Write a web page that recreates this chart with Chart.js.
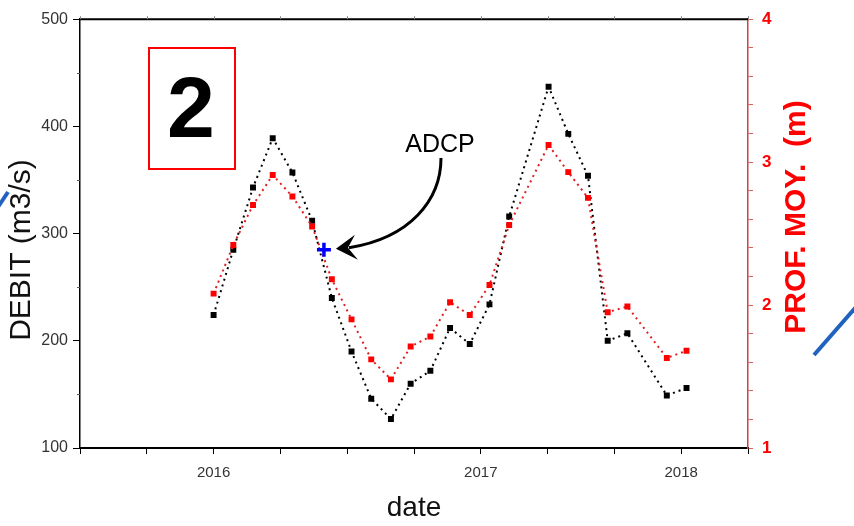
<!DOCTYPE html>
<html>
<head>
<meta charset="utf-8">
<script src="https://cdn.jsdelivr.net/npm/chart.js@4.4.1/dist/chart.umd.min.js"></script>
<style>
  html, body { margin: 0; padding: 0; background: #fff; }
  #wrap { width: 854px; height: 526px; position: relative; }
</style>
</head>
<body>
<div id="wrap"><canvas id="chart"></canvas></div>
<script>
// months since Jan 2016 (missing months have no measurement)
const months = [0, 1, 2, 3, 4, 5, 6, 7, 8, 9, 10, 11, 12, 13, 14, 15, 17, 18, 19, 20, 21, 23, 24];
const debit = [224, 285, 343, 389, 357, 312, 240, 190, 146, 127, 160, 172, 212, 197, 234, 316, 437, 393, 354, 200, 207, 149, 156];
const profMoy = [2.08, 2.42, 2.70, 2.91, 2.76, 2.55, 2.18, 1.90, 1.62, 1.48, 1.71, 1.78, 2.02, 1.93, 2.14, 2.56, 3.12, 2.93, 2.75, 1.95, 1.99, 1.63, 1.68];
const adcpMonth = [5.6];
const adcpDebit = [285];

// x axis: a tick every 3.39 months, only three of them carry a label
const xMin = -6.78, xMax = 27.12, xStep = 3.39;
const xTickLabels = ['', '', '2016', '', '', '', '2017', '', '', '2018', ''];
const debitMinorTicks = [150, 250, 350, 450];

const FONT = 'Arial, "Liberation Sans", sans-serif';

const toPoints = (xs, ys) => xs.map((x, i) => ({ x: x, y: ys[i] }));

// axis titles, top frame line, minor ticks and the slide annotations
const decorations = {
  id: 'decorations',
  afterDraw(chart) {
    const ctx = chart.ctx;
    const area = chart.chartArea;
    const xs = chart.scales.x;
    const ys = chart.scales.y;
    ctx.save();

    // top frame line with small ticks
    ctx.strokeStyle = '#000';
    ctx.lineWidth = 2;
    ctx.beginPath();
    ctx.moveTo(area.left, area.top);
    ctx.lineTo(area.right, area.top);
    ctx.stroke();
    ctx.strokeStyle = '#888';
    ctx.lineWidth = 1;
    xs.ticks.forEach(t => {
      const px = Math.round(xs.getPixelForValue(t.value)) + 0.5;
      ctx.beginPath();
      ctx.moveTo(px, area.top);
      ctx.lineTo(px, area.top - 3);
      ctx.stroke();
    });

    // short minor ticks on the DEBIT axis
    ctx.strokeStyle = '#555';
    debitMinorTicks.forEach(v => {
      const py = Math.round(ys.getPixelForValue(v)) + 0.5;
      ctx.beginPath();
      ctx.moveTo(area.left - 3, py);
      ctx.lineTo(area.left, py);
      ctx.stroke();
    });

    // rotated axis titles
    ctx.textAlign = 'center';
    ctx.textBaseline = 'middle';
    ctx.save();
    ctx.translate(22, 250);
    ctx.rotate(-Math.PI / 2);
    ctx.fillStyle = '#111';
    ctx.font = '30px ' + FONT;
    ctx.fillText('DEBIT (m3/s)', 0, 0);
    ctx.restore();

    ctx.save();
    ctx.translate(797, 217);
    ctx.rotate(-Math.PI / 2);
    ctx.fillStyle = '#ff0000';
    ctx.font = 'bold 30px ' + FONT;
    ctx.fillText('PROF. MOY.  (m)', 0, 0);
    ctx.restore();

    // panel number box
    ctx.strokeStyle = '#ff0000';
    ctx.lineWidth = 2;
    ctx.strokeRect(149, 48, 86, 121);
    ctx.fillStyle = '#000';
    ctx.font = 'bold 86px ' + FONT;
    ctx.textBaseline = 'alphabetic';
    ctx.fillText('2', 191, 137);

    // ADCP label and curved arrow to the ADCP point
    ctx.font = '25px "Liberation Sans Narrow", ' + FONT;
    ctx.fillText('ADCP', 440, 152);
    const tipX = xs.getPixelForValue(adcpMonth[0]) + 12;
    const tipY = ys.getPixelForValue(adcpDebit[0]) - 1;
    ctx.strokeStyle = '#000';
    ctx.lineWidth = 3;
    ctx.beginPath();
    ctx.moveTo(441, 158);
    ctx.bezierCurveTo(441, 200, 410, 238, tipX + 13, tipY - 1);
    ctx.stroke();
    ctx.beginPath();
    ctx.moveTo(tipX, tipY);
    ctx.lineTo(tipX + 19, tipY - 14);
    ctx.lineTo(tipX + 12, tipY - 1);
    ctx.lineTo(tipX + 22, tipY + 11);
    ctx.closePath();
    ctx.fill();

    // blue slide strokes at the edges
    ctx.strokeStyle = '#1f62c0';
    ctx.lineWidth = 4;
    ctx.beginPath();
    ctx.moveTo(-2, 207);
    ctx.lineTo(8, 192);
    ctx.stroke();
    ctx.beginPath();
    ctx.moveTo(814, 355);
    ctx.lineTo(856, 307);
    ctx.stroke();

    ctx.restore();
  }
};

const ctx = document.getElementById('chart').getContext('2d');
new Chart(ctx, {
  type: 'line',
  data: {
    datasets: [
      {
        label: 'ADCP',
        data: toPoints(adcpMonth, adcpDebit),
        yAxisID: 'y',
        showLine: false,
        pointStyle: 'cross',
        pointRadius: 7,
        pointBorderWidth: 3.5,
        borderColor: '#0000ff',
        backgroundColor: '#0000ff',
        order: 0
      },
      {
        label: 'PROF. MOY.',
        data: toPoints(months, profMoy),
        yAxisID: 'y1',
        borderColor: '#e02020',
        borderWidth: 2,
        borderDash: [2, 4],
        pointStyle: 'rect',
        pointRadius: 4.2,
        pointBorderWidth: 0,
        pointBackgroundColor: '#ff0000',
        order: 1
      },
      {
        label: 'DEBIT',
        data: toPoints(months, debit),
        yAxisID: 'y',
        borderColor: '#000',
        borderWidth: 2,
        borderDash: [2, 4],
        pointStyle: 'rect',
        pointRadius: 4.2,
        pointBorderWidth: 0,
        pointBackgroundColor: '#000',
        order: 2
      }
    ]
  },
  options: {
    responsive: true,
    maintainAspectRatio: false,
    animation: false,
    layout: { padding: { top: 14 } },
    plugins: { legend: { display: false }, tooltip: { enabled: false } },
    scales: {
      x: {
        type: 'linear',
        min: xMin,
        max: xMax,
        afterBuildTicks: s => { s.ticks = xTickLabels.map((_, i) => ({ value: xMin + i * xStep })); },
        afterFit: s => { s.height = 78; },
        ticks: {
          autoSkip: false,
          maxRotation: 0,
          padding: 10,
          color: '#333',
          font: { family: FONT, size: 15 },
          callback: (v, i) => xTickLabels[i]
        },
        grid: { drawOnChartArea: false, tickLength: 6, color: '#000' },
        border: { color: '#000', width: 2 },
        title: { display: true, text: 'date', color: '#111', font: { family: FONT, size: 28 }, padding: { top: 0, bottom: 1 } }
      },
      y: {
        position: 'left',
        min: 100,
        max: 500,
        afterFit: s => { s.width = 80; },
        ticks: { stepSize: 100, padding: 5, color: '#333', font: { family: FONT, size: 16 } },
        grid: { drawOnChartArea: false, tickLength: 7, color: '#000' },
        border: { color: '#000', width: 1.5 }
      },
      y1: {
        position: 'right',
        min: 1,
        max: 4,
        afterFit: s => { s.width = 106; },
        ticks: {
          stepSize: 0.2,
          padding: 9,
          color: '#ff0000',
          font: { family: FONT, size: 17, weight: 'bold' },
          callback: v => (Math.abs(v - Math.round(v)) < 1e-6 ? Math.round(v) : '')
        },
        grid: { drawOnChartArea: false, tickLength: 5, color: '#e06060' },
        border: { color: '#d04040', width: 1.5 }
      }
    }
  },
  plugins: [decorations]
});
</script>
</body>
</html>
